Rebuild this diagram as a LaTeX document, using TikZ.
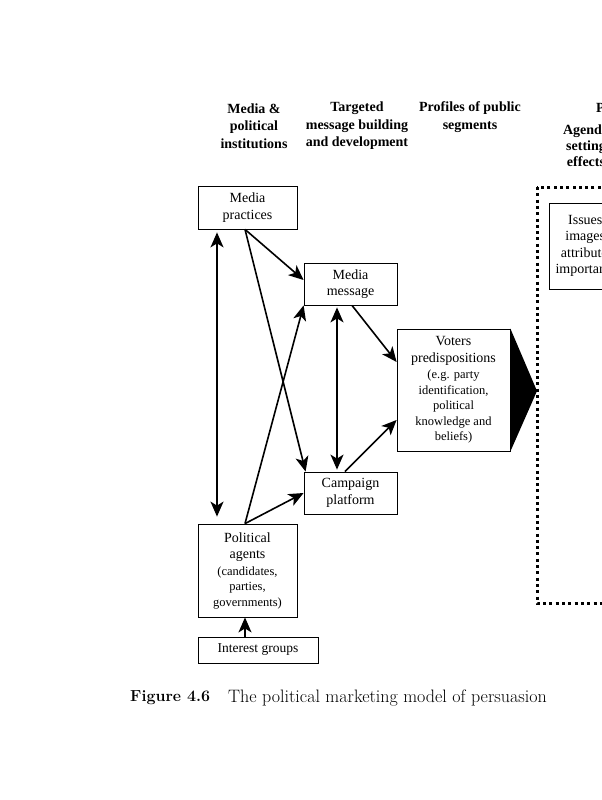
\documentclass[tikz,border=0pt]{standalone}
\usepackage{fontspec}
\usepackage{tikz}
\usetikzlibrary{arrows.meta}
\newfontfamily\timesfont{Liberation Serif}
\newcommand\smalltxt{\fontsize{12.5}{15}\selectfont}

\begin{document}
\begin{tikzpicture}[x=1pt, y=-1pt,
        font = \timesfont\fontsize{14}{16.5}\selectfont,
        box/.style = {draw, line width=0.8pt, inner sep=0pt, align=center},
        head/.style = {font=\timesfont\bfseries\fontsize{14}{17.5}\selectfont, align=center, inner sep=0pt},
        link/.style = {line width=1.6pt, -{Stealth[length=15pt, width=13pt, inset=4pt]}},
        both/.style = {line width=1.6pt, {Stealth[length=15pt, width=13pt, inset=4pt]}-{Stealth[length=15pt, width=13pt, inset=4pt]}},
        dotbox/.style = {line width=3pt, dash pattern=on 3pt off 3.3pt}]
        \useasboundingbox (0,0) rectangle (602,800);
        \clip (0,0) rectangle (602,800);
        
        % column headings
        \node[head] (hmedia) at (254,126) {Media \&\\political\\institutions};
        \node[head] (hmsg) at (357,126) {Targeted\\message building\\and development};
        \node[head] (hprof) at (470,117) {Profiles of public\\segments};
        \node[head, anchor=west] (heffect) at (596,108) {Persuasion effects};
        \node[head, font=\timesfont\bfseries\fontsize{14}{16}\selectfont] (hagenda) at (586,146) {Agenda\\setting\\effects};
        
        % boxes
        \node[box, minimum width=99pt, minimum height=43pt] (mprac) at (247.5,207.5) {Media\\practices};
        \node[box, minimum width=93pt, minimum height=42pt] (mmsg) at (350.5,284) {Media\\message};
        \node[box, minimum width=113pt, minimum height=122pt] (voters) at (453.5,390)
            {Voters\\predispositions\\\smalltxt (e.g. party\\[-1pt]\smalltxt identification,\\[-1pt]\smalltxt political\\[-1pt]\smalltxt knowledge and\\[-1pt]\smalltxt beliefs)};
        \node[box, minimum width=93pt, minimum height=42pt] (camp) at (350.5,493) {Campaign\\platform};
        \node[box, minimum width=99pt, minimum height=93pt] (agents) at (247.5,570.5)
            {Political\\agents\\\smalltxt (candidates,\\[-1pt]\smalltxt parties,\\[-1pt]\smalltxt governments)};
        \node[box, minimum width=120pt, minimum height=26pt] (interest) at (258,650) {\fontsize{13.5}{16}\selectfont Interest groups};
        \node[box, minimum width=76pt, minimum height=86pt] (issue) at (587,246) {Issues,\\images,\\attributes\\importance};
        
        % effects frame and wedge
        \draw[dotbox] (537,187) rectangle (660,603);
        \coordinate (apex) at (537,391);
        \fill (voters.north east) -- (apex) -- (voters.south east) -- cycle;
        
        % connectors
        \draw[both, shorten <=3pt, shorten >=7pt] ([xshift=-30.5pt]mprac.south) -- ([xshift=-30.5pt]agents.north);
        \draw[link] ([xshift=-2.5pt]mprac.south) -- ([yshift=4pt]mmsg.west);
        \draw[link] ([xshift=-2.5pt]mprac.south) -- ([xshift=2pt]camp.north west);
        \draw[link] ([xshift=-2.5pt]agents.north) -- (mmsg.south west);
        \draw[link] ([xshift=-2.5pt]agents.north) -- (camp.west);
        \draw[both, shorten <=2pt, shorten >=2pt] ([xshift=-13.5pt]mmsg.south) -- ([xshift=-13.5pt]camp.north);
        \draw[link] ([xshift=1.5pt]mmsg.south) -- ([yshift=28pt]voters.west);
        \draw[link] ([xshift=-5.5pt]camp.north) -- ([yshift=-30pt]voters.west);
        \draw[link] ([xshift=-13pt]interest.north) -- ([xshift=-2.5pt]agents.south);
        
        % caption
        \node[anchor=west, inner sep=0pt, font=\rmfamily\bfseries\fontsize{16}{20}\selectfont] (fignum) at (130,698) {Figure 4.6};
        \node[anchor=west, inner sep=0pt, font=\rmfamily\fontsize{18}{22}\selectfont] (figtitle) at (228,698) {The political marketing model of persuasion};
    \end{tikzpicture}
\end{document}
